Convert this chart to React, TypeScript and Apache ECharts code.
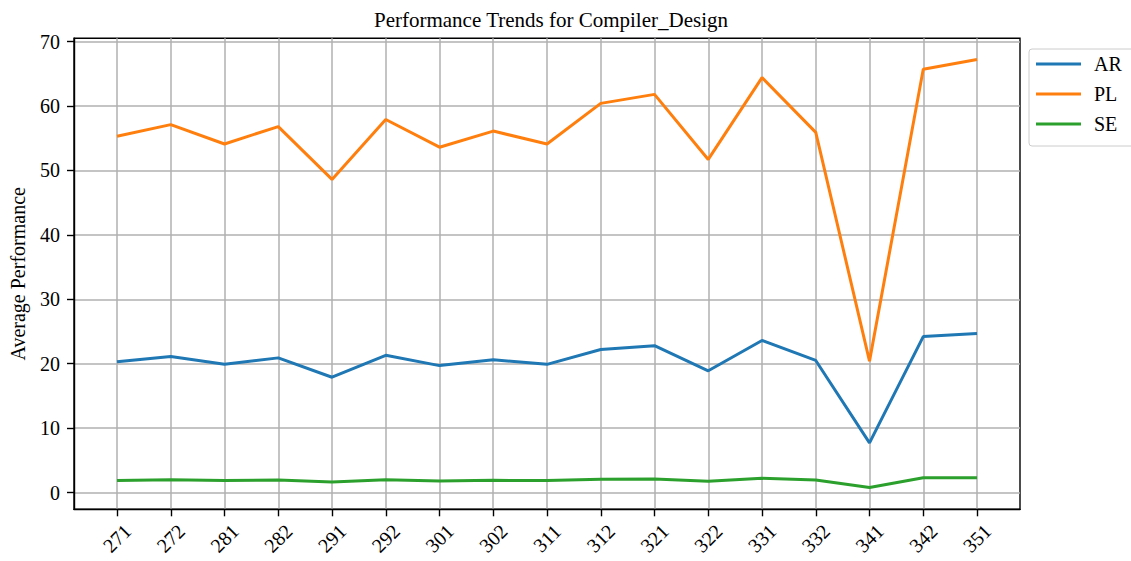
import React, { useEffect, useRef } from "react";
import * as echarts from "echarts";

const categories = ["271", "272", "281", "282", "291", "292", "301", "302", "311", "312", "321", "322", "331", "332", "341", "342", "351"];
const arValues = [20.3, 21.1, 19.9, 20.9, 17.9, 21.3, 19.7, 20.6, 19.9, 22.2, 22.8, 18.9, 23.6, 20.5, 7.7, 24.2, 24.7];
const plValues = [55.3, 57.1, 54.1, 56.8, 48.6, 57.9, 53.6, 56.1, 54.1, 60.4, 61.8, 51.7, 64.4, 55.9, 20.4, 65.7, 67.2];
const seValues = [1.86, 2.0, 1.86, 1.96, 1.65, 2.0, 1.8, 1.9, 1.86, 2.06, 2.1, 1.76, 2.2, 1.96, 0.77, 2.3, 2.3];
const yTicks = [0, 10, 20, 30, 40, 50, 60, 70];
const seriesNames = ["AR", "PL", "SE"];
const seriesColors = ["#1f77b4", "#ff7f0e", "#2ca02c"];

const FONT = "'Liberation Serif', 'Times New Roman', serif";
const LEGEND_LINE = "path://M0 0M45 20M0 8.6H45V11.4H0Z";

export default function App() {
  const ref = useRef<HTMLDivElement>(null);
  useEffect(() => {
    if (!ref.current) return;
    const chart = echarts.init(ref.current, undefined, { renderer: "svg" });
    const xIdx = categories.map((_, i) => i);
    const allSeries = [arValues, plValues, seValues];
    chart.setOption({
      animation: false,
      backgroundColor: "#ffffff",
      title: {
        text: "Performance Trends for Compiler_Design",
        left: 546,
        textAlign: "center",
        top: 4,
        textStyle: { fontFamily: FONT, fontSize: 21, fontWeight: "normal", color: "#000" },
      },
      legend: {
        orient: "vertical",
        left: 1029,
        top: 49,
        width: 120,
        padding: [5, 20, 12, 7],
        itemWidth: 45,
        itemHeight: 20,
        itemGap: 10,
        icon: LEGEND_LINE,
        borderColor: "#cccccc",
        borderWidth: 1,
        borderRadius: 3,
        data: seriesNames,
        textStyle: { fontFamily: FONT, fontSize: 20, lineHeight: 20, color: "#000", padding: [0, 0, 0, 8] },
      },
      grid: {
        left: 72.7,
        right: 111,
        top: 38.3,
        bottom: 51.7,
        show: true,
        borderColor: "#000",
        borderWidth: 1.4,
        containLabel: false,
      },
      xAxis: {
        type: "value",
        min: -0.8,
        max: 16.8,
        axisLine: { show: true, onZero: false, lineStyle: { color: "#000", width: 1.4 } },
        axisTick: { show: true, inside: false, length: 7, customValues: xIdx, lineStyle: { color: "#000", width: 1.4 } },
        axisLabel: {
          customValues: xIdx,
          formatter: (v: number) => categories[Math.round(v)] ?? "",
          rotate: 45,
          align: "center",
          verticalAlign: "middle",
          margin: 29,
          fontFamily: FONT,
          fontSize: 20,
          color: "#000",
        },
        splitLine: { show: true, lineStyle: { color: "#b0b0b0", width: 1.5 } },
      },
      yAxis: {
        type: "value",
        min: -2.6,
        max: 70.5,
        name: "Average Performance",
        nameLocation: "middle",
        nameGap: 46,
        nameTextStyle: { fontFamily: FONT, fontSize: 20, color: "#000" },
        axisLine: { show: true, onZero: false, lineStyle: { color: "#000", width: 1.4 } },
        axisTick: { show: true, inside: false, length: 7, customValues: yTicks, lineStyle: { color: "#000", width: 1.4 } },
        axisLabel: {
          customValues: yTicks,
          margin: 14,
          fontFamily: FONT,
          fontSize: 20,
          color: "#000",
        },
        splitLine: { show: true, lineStyle: { color: "#b0b0b0", width: 1.5 } },
      },
      series: seriesNames.map((name, si) => ({
        name,
        type: "line",
        symbol: "none",
        showSymbol: false,
        color: seriesColors[si],
        lineStyle: { width: 3, color: seriesColors[si] },
        data: allSeries[si].map((v, i) => [i, v]),
      })),
    });
    return () => chart.dispose();
  }, []);
  return <div ref={ref} style={{ position: "fixed", left: 0, top: 0, width: 1131, height: 561 }} />;
}
